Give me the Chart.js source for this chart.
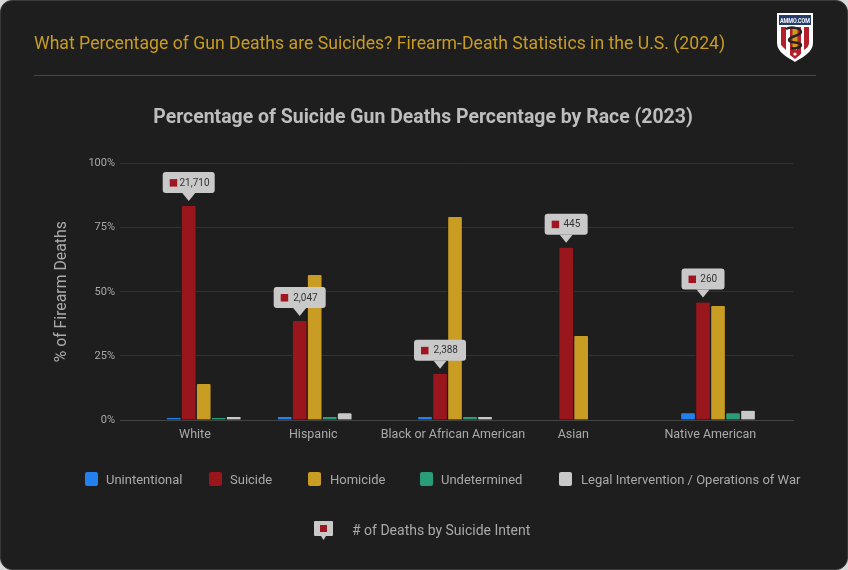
<!DOCTYPE html>
<html>
<head>
<meta charset="utf-8">
<script src="https://cdn.jsdelivr.net/npm/chart.js@4"></script>
<style>
  html, body { margin: 0; background: #d8d8d8; }
  #panel { position: relative; width: 848px; height: 570px; background: #1e1e1e; border-radius: 12px; overflow: hidden; font-family: Roboto, sans-serif; box-sizing: border-box; border: 1px solid #3a3a3a; }
  #chartBox { position: absolute; left: -1px; top: -1px; width: 848px; height: 570px; }
  #heading { position: absolute; left: 33px; top: 32px; font-size: 17.65px; line-height: 20px; color: #c99c24; white-space: nowrap; }
  #rule { position: absolute; left: 33px; top: 74px; width: 782px; height: 1px; background: #474747; }
  #logo { position: absolute; left: 775px; top: 11px; }
  .key { position: absolute; top: 471px; font-size: 13px; line-height: 16px; color: #aaaaaa; white-space: nowrap; }
  .swatch { position: absolute; top: 471px; width: 13px; height: 14px; border-radius: 2px; }
  #calloutKey { position: absolute; left: 351px; top: 520px; font-size: 14px; line-height: 18px; color: #aaaaaa; white-space: nowrap; }
  #calloutIcon { position: absolute; left: 312px; top: 519px; }
</style>
</head>
<body>
<div id="panel">
  <div id="chartBox"><canvas id="barChart"></canvas></div>
  <div id="heading">What Percentage of Gun Deaths are Suicides? Firearm-Death Statistics in the U.S. (2024)</div>
  <div id="rule"></div>
  <svg id="logo" width="38" height="51" viewBox="0 0 38 51">
    <path d="M1 1H37V31C37 40 27 45 19 50C11 45 1 40 1 31Z" fill="#ffffff"/>
    <path d="M3 3H35V13H3Z" fill="#233a6b"/>
    <path d="M5 15H10V38L5 33ZM14 15H18V42L14 40ZM21 15H25V42L21 44ZM28 15H33V31C33 34 31 36 28 38Z" fill="#b3202a"/>
    <path d="M14 40L19 37L24 40V43L19 47L14 43Z" fill="#b3202a"/>
    <circle cx="19" cy="42" r="1.6" fill="#ffffff"/>
    <path d="M16.500 17H21.500V37H16.500Z" fill="#c99c24"/>
    <path d="M10 17C15 14 25 16 25 20C25 24 13 24 13 28C13 32 25 29 25 33C25 36 18 37 15 36" fill="none" stroke="#222222" stroke-width="2.4"/>
    <text x="19" y="11" font-family="Roboto, sans-serif" font-size="8" font-weight="700" fill="#ffffff" text-anchor="middle" textLength="30" lengthAdjust="spacingAndGlyphs">AMMO.COM</text>
  </svg>
  <svg id="calloutIcon" width="21" height="22" viewBox="0 0 21 22">
    <path d="M2 1H19Q20 1 20 2V15Q20 16 19 16H13L10.500 20L8 16H2Q1 16 1 15V2Q1 1 2 1Z" fill="#c9c9c9"/>
    <rect x="7" y="5" width="7" height="7" fill="#a01620"/>
  </svg>
  <div id="calloutKey"># of Deaths by Suicide Intent</div>
</div>
<script>
// Kategorien und Werte (% der Schusswaffentoten)
let categories = ['White', 'Hispanic', 'Black or African American', 'Asian', 'Native American'];
let unintentional = [0.8, 1.2, 1.2, null, 2.6];
let suicide = [83.4, 38.6, 18, 67.2, 45.8];
let homicide = [14, 56.5, 79.2, 32.8, 44.5];
let undetermined = [0.8, 1.2, 1.2, null, 2.6];
let legalIntervention = [1.2, 2.6, 1.2, null, 3.6];
let suicideCounts = ['21,710', '2,047', '2,388', '445', '260'];
let yTicks = [0, 25, 50, 75, 100];

let panelColor = '#1e1e1e';
let seriesNames = ['Unintentional', 'Suicide', 'Homicide', 'Undetermined', 'Legal Intervention / Operations of War'];
let seriesColors = ['#2480ee', '#98161c', '#c99c24', '#2a9d78', '#c8c8c8'];
let seriesValues = [unintentional, suicide, homicide, undetermined, legalIntervention];

// The groups are not evenly spaced in the original, so the x scale places them by share of the axis
let groupShare = [0.1244, 0.2893, 0.4978, 0.6741, 0.8886];
let labelShare = [0.1114, 0.2872, 0.4948, 0.6736, 0.8771];

class PlacedCategoryScale extends Chart.CategoryScale {
  getPixelForValue(value) {
    return this.getPixelForDecimal(groupShare[value]);
  }
  getPixelForTick(index) {
    return this.getPixelForDecimal(labelShare[index]);
  }
}
PlacedCategoryScale.id = 'placedCategory';
PlacedCategoryScale.defaults = Chart.CategoryScale.defaults;
Chart.register(PlacedCategoryScale);

// Legend row under the chart
let swatchLeft = [84, 208, 307, 419, 558];
let keyLeft = [105, 229, 329, 440, 580];
let panel = document.getElementById('panel');
seriesNames.forEach((name, i) => {
  let swatch = document.createElement('div');
  swatch.className = 'swatch';
  swatch.style.left = swatchLeft[i] + 'px';
  swatch.style.background = seriesColors[i];
  panel.appendChild(swatch);
  let key = document.createElement('div');
  key.className = 'key';
  key.style.left = keyLeft[i] + 'px';
  key.textContent = name;
  panel.appendChild(key);
});

// Callouts above the suicide bars
let suicideCallouts = {
  id: 'suicideCallouts',
  afterDatasetsDraw(chart) {
    let ctx = chart.ctx;
    let bars = chart.getDatasetMeta(1).data;
    ctx.save();
    ctx.font = '10px Roboto';
    ctx.textBaseline = 'middle';
    bars.forEach((bar, i) => {
      let label = suicideCounts[i];
      let boxWidth = label.length > 3 ? 52 : 43;
      let left = bar.x - boxWidth / 2;
      let tipY = bar.y - 5;
      let boxBottom = tipY - 8;
      let boxTop = boxBottom - 21;
      ctx.fillStyle = '#c9c9c9';
      ctx.beginPath();
      ctx.roundRect(left, boxTop, boxWidth, 21, 3);
      ctx.fill();
      ctx.beginPath();
      ctx.moveTo(bar.x - 6.5, boxBottom);
      ctx.lineTo(bar.x, tipY);
      ctx.lineTo(bar.x + 6.5, boxBottom);
      ctx.fill();
      ctx.fillStyle = '#a01620';
      ctx.fillRect(left + 7, boxTop + 7, 7.5, 7.5);
      ctx.fillStyle = '#333333';
      ctx.textAlign = 'center';
      ctx.fillText(label, (left + 14.5 + left + boxWidth) / 2 - 1.5, boxTop + 11);
    });
    ctx.restore();
  }
};

let config = {
  type: 'bar',
  data: {
    labels: categories,
    datasets: seriesNames.map((name, i) => ({
      label: name,
      data: seriesValues[i],
      backgroundColor: seriesColors[i],
      borderColor: panelColor,
      borderWidth: { left: 1, right: 1, top: 0, bottom: 0 },
      borderRadius: { topLeft: 2, topRight: 2 },
      borderSkipped: 'bottom',
      barThickness: 15,
      skipNull: true
    }))
  },
  options: {
    responsive: true,
    maintainAspectRatio: false,
    animation: false,
    layout: { padding: { left: 53, right: 55 } },
    plugins: {
      legend: { display: false },
      tooltip: { enabled: false },
      title: {
        display: true,
        text: 'Percentage of Suicide Gun Deaths Percentage by Race (2023)',
        color: '#bdbdbd',
        font: { family: 'Roboto', size: 19.45, weight: '700' },
        padding: { top: 106, bottom: 34.2 }
      }
    },
    scales: {
      x: {
        type: 'placedCategory',
        grid: { display: false },
        border: { color: '#444444' },
        ticks: { color: '#aaaaaa', font: { family: 'Roboto', size: 12.5 }, padding: -1, autoSkip: false, maxRotation: 0 },
        afterFit(scale) { scale.height = 150; }
      },
      y: {
        min: 0,
        max: 100,
        afterBuildTicks(scale) { scale.ticks = yTicks.map(value => ({ value })); },
        grid: { color: '#333333', drawTicks: false },
        border: { display: false },
        ticks: { color: '#aaaaaa', font: { family: 'Roboto', size: 11 }, padding: 5, callback: value => value + '%' },
        title: {
          display: true,
          text: '% of Firearm Deaths',
          color: '#aaaaaa',
          font: { family: 'Roboto', size: 15.8 },
          padding: { top: 0, bottom: 0 }
        },
        afterFit(scale) { scale.width = 67; }
      }
    }
  },
  plugins: [suicideCallouts]
};

let barChart = new Chart(document.getElementById('barChart').getContext('2d'), config);
</script>
</body>
</html>
